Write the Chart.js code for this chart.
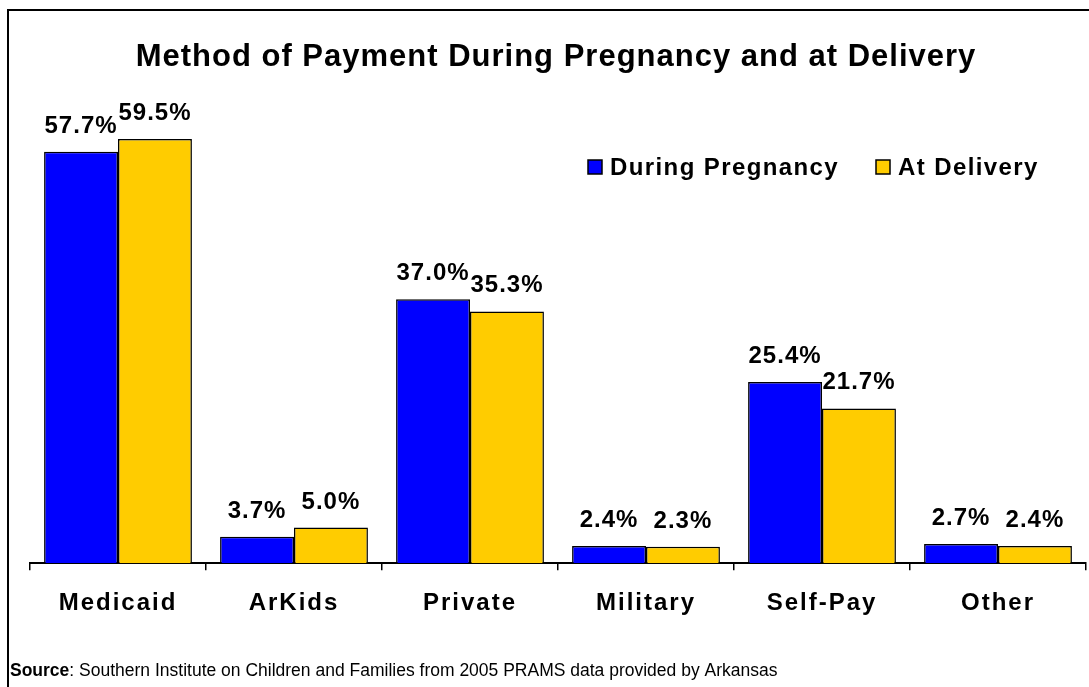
<!DOCTYPE html>
<html>
<head>
<meta charset="utf-8">
<script src="https://cdn.jsdelivr.net/npm/chart.js@4/dist/chart.umd.min.js"></script>
<style>
  html, body { margin: 0; padding: 0; background: #fff; }
  #wrap { position: relative; width: 1089px; height: 687px; }
</style>
</head>
<body>
<div id="wrap"><canvas id="chart" width="1089" height="687"></canvas></div>
<script>
const categories = ["Medicaid", "ArKids", "Private", "Military", "Self-Pay", "Other"];
const seriesNames = ["During Pregnancy", "At Delivery"];
const duringPregnancy = [57.7, 3.7, 37.0, 2.4, 25.4, 2.7];
const atDelivery = [59.5, 5.0, 35.3, 2.3, 21.7, 2.4];
const colors = ["#0000FF", "#FFCC00"];

const FONT = "Arial, 'Liberation Sans', sans-serif";

// frame, title, legend, source
const decorations = {
  id: "decorations",
  beforeDraw(chart) {
    const ctx = chart.ctx;
    ctx.save();
    ctx.fillStyle = "#fff";
    ctx.fillRect(0, 0, chart.width, chart.height);
    ctx.strokeStyle = "#000";
    ctx.lineWidth = 2;
    ctx.strokeRect(8, 10, chart.width + 20, chart.height + 20);
    ctx.restore();
  },
  afterDraw(chart) {
    const ctx = chart.ctx;
    ctx.save();
    ctx.fillStyle = "#000";
    ctx.textBaseline = "middle";
    ctx.textAlign = "center";
    ctx.font = "bold 31px " + FONT;
    ctx.letterSpacing = "1px";
    ctx.fillText("Method of Payment During Pregnancy and at Delivery", 556, 57);

    // legend
    ctx.textAlign = "left";
    ctx.font = "bold 24px " + FONT;
    ctx.letterSpacing = "1.4px";
    const legendX = [588, 876];
    chart.data.datasets.forEach((ds, i) => {
      const x = legendX[i];
      ctx.fillStyle = ds.backgroundColor;
      ctx.fillRect(x, 160, 14, 14);
      ctx.strokeStyle = "#000";
      ctx.lineWidth = 1.5;
      ctx.strokeRect(x, 160, 14, 14);
      ctx.fillStyle = "#000";
      ctx.fillText(ds.label, x + 22, 168);
    });

    // value labels
    ctx.textAlign = "center";
    ctx.textBaseline = "alphabetic";
    ctx.font = "bold 24px " + FONT;
    ctx.letterSpacing = "1px";
    chart.data.datasets.forEach((ds, i) => {
      chart.getDatasetMeta(i).data.forEach((bar, j) => {
        ctx.fillText(ds.data[j].toFixed(1) + "%", bar.x, bar.y - 19);
      });
    });

    // source
    ctx.textAlign = "left";
    ctx.letterSpacing = "0px";
    ctx.font = "bold 17.5px " + FONT;
    ctx.fillText("Source", 10, 676);
    const w = ctx.measureText("Source").width;
    ctx.font = "17.5px " + FONT;
    ctx.fillText(": Southern Institute on Children and Families from 2005 PRAMS data provided by Arkansas", 10 + w, 676);
    ctx.restore();
  }
};

// spaced category labels
const axisSpacing = {
  id: "axisSpacing",
  beforeDraw(chart) { chart.ctx.letterSpacing = "2px"; },
  afterDatasetsDraw(chart) { chart.ctx.letterSpacing = "0px"; }
};

new Chart(document.getElementById("chart"), {
  type: "bar",
  data: {
    labels: categories,
    datasets: [
      {
        label: seriesNames[0],
        data: duringPregnancy,
        backgroundColor: colors[0],
        borderColor: "#000",
        borderWidth: 1.5
      },
      {
        label: seriesNames[1],
        data: atDelivery,
        backgroundColor: colors[1],
        borderColor: "#000",
        borderWidth: 1.5
      }
    ]
  },
  options: {
    responsive: false,
    animation: false,
    layout: { padding: { top: 64, left: 30, right: 3, bottom: 50 } },
    plugins: {
      legend: { display: false },
      title: { display: false },
      tooltip: { enabled: false }
    },
    datasets: { bar: { categoryPercentage: 0.84, barPercentage: 1 } },
    scales: {
      x: {
        grid: { drawOnChartArea: false, drawTicks: true, tickLength: 7, color: "#000", lineWidth: 1.5 },
        border: { display: true, color: "#000", width: 2 },
        ticks: { color: "#000", font: { family: FONT, size: 24, weight: "bold" }, padding: 19 }
      },
      y: {
        display: false,
        min: 0,
        max: 70
      }
    }
  },
  plugins: [decorations, axisSpacing]
});
</script>
</body>
</html>
